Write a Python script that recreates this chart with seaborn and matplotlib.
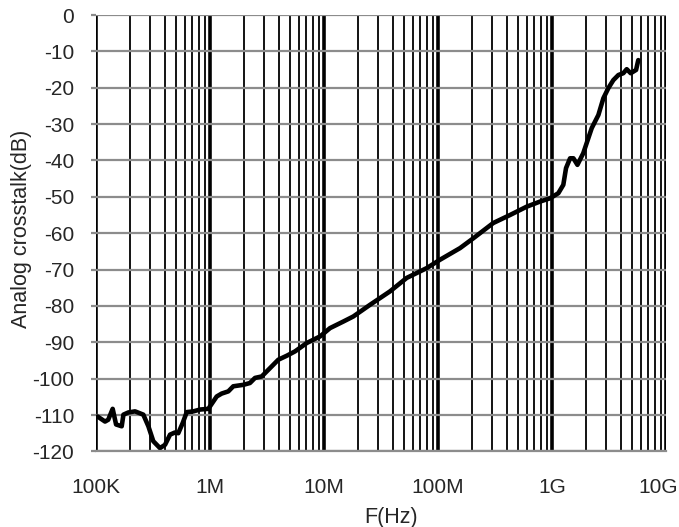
import matplotlib
matplotlib.use("Agg")
import matplotlib.pyplot as plt
import matplotlib.ticker as mticker
import matplotlib.transforms as mtransforms
import numpy as np
import pandas as pd
import seaborn as sns

# 측정 데이터 (주파수 Hz, 크로스토크 dB)
freq_hz = [1.03e5, 1.20e5, 1.28e5, 1.40e5, 1.50e5, 1.68e5, 1.74e5, 1.92e5, 2.20e5, 2.60e5,
           2.88e5, 3.18e5, 3.64e5, 4.03e5, 4.46e5, 4.93e5, 5.27e5, 5.76e5, 6.25e5, 7.14e5,
           8.17e5, 9.67e5, 1.145e6, 1.266e6, 1.447e6, 1.60e6, 1.96e6, 2.24e6, 2.48e6, 2.84e6,
           3.36e6, 3.97e6, 4.71e6, 5.57e6, 7.05e6, 9.22e6, 1.129e7, 1.476e7, 1.807e7, 2.53e7,
           3.79e7, 5.31e7, 7.96e7, 1.041e8, 1.56e8, 2.04e8, 3.05e8, 4.28e8, 6.00e8, 7.85e8,
           9.60e8, 1.136e9, 1.256e9, 1.327e9, 1.44e9, 1.54e9, 1.67e9, 1.88e9, 2.08e9, 2.23e9,
           2.55e9, 2.82e9, 3.12e9, 3.45e9, 3.82e9, 4.22e9, 4.52e9, 4.90e9, 5.46e9, 5.71e9]
crosstalk_db = [-110.4, -111.8, -111.3, -108.3, -112.6, -113.1, -109.9, -109.3, -109.0, -109.9,
                -113.1, -117.2, -119.1, -118.2, -115.4, -114.8, -115.0, -112.2, -109.2, -109.0,
                -108.5, -108.3, -104.9, -104.1, -103.5, -102.1, -101.7, -101.2, -99.8, -99.4,
                -97.1, -94.8, -93.7, -92.5, -90.2, -88.4, -86.1, -84.3, -82.9, -79.7,
                -76.0, -72.3, -69.6, -67.3, -64.1, -61.4, -57.2, -55.0, -52.7, -51.3,
                -50.4, -49.0, -46.7, -42.1, -39.4, -39.4, -41.2, -38.0, -33.9, -31.1,
                -27.5, -22.9, -20.1, -17.9, -16.5, -16.0, -14.9, -16.0, -15.1, -12.4]

x_ticks = [1e5, 1e6, 1e7, 1e8, 1e9, 1e10]
x_labels = ["100K", "1M", "10M", "100M", "1G", "10G"]
y_ticks = list(range(-120, 1, 10))

df = pd.DataFrame({"F": freq_hz, "dB": crosstalk_db})

sns.set_theme(style="white")
plt.rcParams['font.family'] = ['Liberation Sans', 'DejaVu Sans']
plt.rcParams['axes.unicode_minus'] = False

fig = plt.figure(figsize=(6.79, 5.27), dpi=100)
ax = fig.add_axes([0.1414, 0.1435, 0.8395, 0.8280])

ax.set_xscale("log")
ax.set_xlim(1e5, 1e10)
ax.set_ylim(-120, 0)

# 격자선 (세로: 검정, 가로: 회색)
ax.xaxis.set_minor_locator(mticker.LogLocator(base=10, subs=np.arange(2, 10)))
ax.grid(True, which="major", axis="x", color="black", linewidth=2.6)
ax.grid(True, which="minor", axis="x", color="black", linewidth=1.3)
ax.grid(True, which="major", axis="y", color="#8c8c8c", linewidth=1.6)
ax.set_axisbelow(True)

sns.lineplot(data=df, x="F", y="dB", ax=ax, color="black", linewidth=3.3)

ax.set_xticks(x_ticks)
ax.set_xticklabels(x_labels)
ax.xaxis.set_minor_formatter(mticker.NullFormatter())
ax.set_yticks(y_ticks)
ax.tick_params(axis="x", which="both", length=0, pad=19, labelsize=15)
ax.tick_params(axis="y", length=3.6, color="#8c8c8c", width=1.6, pad=12, labelsize=15, left=True)

# 마지막 라벨(10G)이 잘리지 않게 조금 왼쪽으로
last = ax.get_xticklabels()[-1]
last.set_transform(last.get_transform() + mtransforms.ScaledTranslation(-0.08, 0, fig.dpi_scale_trans))

for s in ["top", "right", "left"]:
    ax.spines[s].set_visible(False)
ax.spines["bottom"].set_color("#8c8c8c")
ax.spines["bottom"].set_linewidth(1.6)

ax.set_xlabel("F(Hz)", fontsize=15.5)
ax.set_ylabel("Analog crosstalk(dB)", fontsize=15.5)
ax.xaxis.set_label_coords(0.5175, -0.127)
ax.yaxis.set_label_coords(-0.112, 0.51)

fig.savefig("out.png", dpi=100)
